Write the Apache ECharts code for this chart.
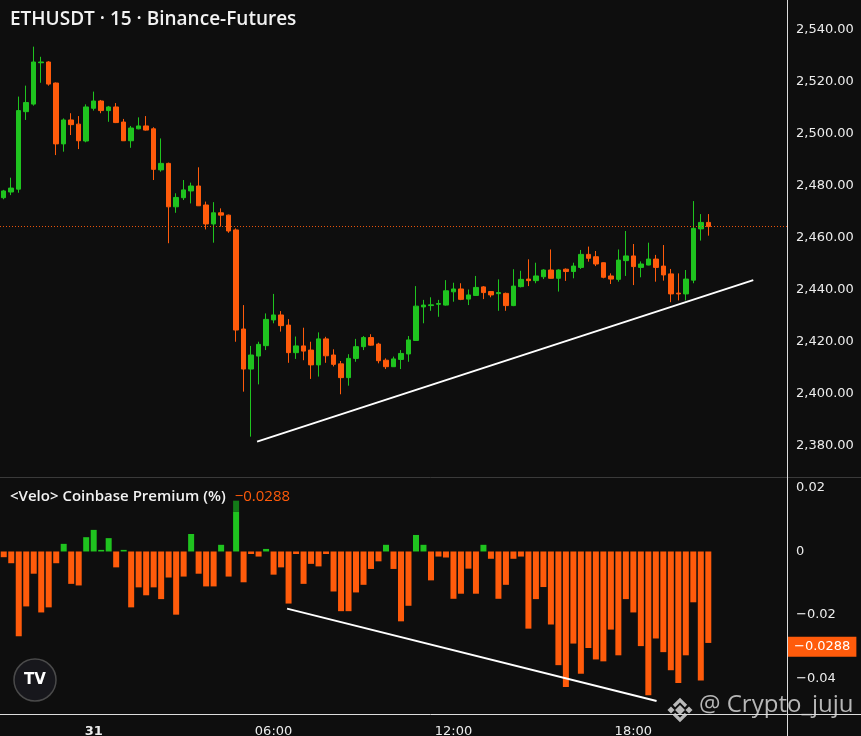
<!DOCTYPE html>
<html><head><meta charset="utf-8">
<script src="https://cdn.jsdelivr.net/npm/echarts@6/dist/echarts.min.js"></script>
<style>html,body{margin:0;padding:0;background:#0e0e0e;overflow:hidden}#c{width:861px;height:736px}</style>
</head><body><div id="c"></div>
<script>
// ---- data ----
const firstCandleMinutes = 21 * 60;   // first candle 21:00 on the 30th
const slotCount = 105;                // visible 15-minute slots
const dayLabel = '31';
const opens  = [2475.5,2477.7,2478.8,2508.6,2511.5,2527.4,2527.7,2519.6,2496.2,2505.4,2503.8,2497.3,2509.9,2512.7,2509.0,2510.4,2504.6,2497.4,2502.0,2503.1,2502.0,2486.2,2488.7,2472.0,2475.5,2478.1,2480.0,2472.7,2465.4,2469.7,2468.8,2463.1,2425.0,2409.6,2414.6,2418.6,2428.5,2430.4,2426.5,2415.9,2418.5,2416.9,2411.2,2421.2,2415.0,2411.6,2406.3,2413.7,2418.2,2421.7,2419.2,2413.0,2410.5,2413.3,2415.4,2420.6,2433.5,2434.0,2434.5,2434.2,2439.3,2440.4,2436.5,2437.9,2441.2,2439.4,2438.6,2438.7,2434.0,2441.3,2444.2,2443.6,2445.1,2447.7,2444.5,2448.0,2447.1,2448.7,2453.7,2452.8,2450.5,2445.4,2444.1,2451.3,2453.1,2448.7,2449.6,2451.9,2449.2,2446.2,2438.8,2438.5,2443.8,2463.5,2466.0];
const closes = [2478.1,2479.2,2509.0,2512.1,2527.7,2527.7,2519.2,2496.2,2505.4,2503.6,2497.4,2510.4,2512.7,2509.0,2510.4,2504.4,2497.4,2502.3,2503.1,2501.5,2486.4,2488.7,2472.0,2475.6,2478.5,2480.0,2472.4,2465.4,2469.7,2468.8,2462.7,2424.6,2409.6,2415.0,2419.1,2428.7,2430.4,2426.3,2415.9,2418.5,2416.5,2411.2,2421.2,2414.7,2411.4,2406.3,2413.7,2418.2,2421.7,2418.8,2412.8,2410.5,2413.5,2415.6,2420.8,2433.8,2434.2,2434.3,2434.8,2439.7,2440.4,2436.4,2438.1,2441.0,2439.0,2438.1,2439.0,2434.0,2441.5,2444.1,2443.6,2445.4,2447.7,2444.5,2447.7,2447.1,2449.2,2453.7,2452.2,2450.0,2444.9,2444.2,2451.5,2453.1,2449.0,2450.0,2451.9,2448.7,2445.8,2438.5,2438.5,2444.2,2463.7,2466.0,2464.4];
const lows   = [2474.9,2476.5,2477.4,2505.4,2510.9,2519.7,2518.6,2491.9,2493.2,2499.6,2494.2,2496.8,2509.0,2508.0,2504.7,2504.2,2497.3,2494.7,2501.8,2501.3,2482.3,2485.5,2458.0,2469.7,2474.6,2473.3,2472.3,2463.3,2458.2,2464.4,2462.0,2420.1,2400.9,2383.6,2403.7,2416.9,2427.2,2424.0,2412.0,2413.5,2413.0,2405.8,2406.7,2412.0,2410.6,2399.9,2403.2,2412.4,2416.9,2418.6,2411.8,2409.6,2410.4,2409.6,2412.4,2420.5,2427.2,2432.0,2429.7,2434.0,2435.5,2436.1,2434.2,2437.8,2436.5,2437.2,2432.0,2432.0,2433.8,2441.0,2441.5,2442.6,2444.2,2444.4,2439.4,2443.5,2444.5,2448.1,2450.9,2449.2,2444.5,2442.3,2443.2,2445.4,2441.9,2444.9,2449.5,2443.2,2443.6,2435.3,2436.0,2436.0,2442.6,2459.0,2460.9];
const highs  = [2478.5,2483.2,2514.4,2518.6,2533.6,2529.7,2528.0,2519.8,2506.0,2508.0,2506.9,2511.4,2516.3,2513.1,2510.8,2511.9,2505.8,2503.1,2506.4,2506.9,2502.6,2498.3,2489.0,2477.2,2482.3,2481.3,2487.2,2474.0,2473.8,2471.4,2469.0,2463.7,2434.2,2418.5,2420.1,2431.0,2438.5,2431.9,2428.8,2422.1,2425.5,2420.1,2423.7,2422.0,2417.2,2412.7,2415.3,2421.2,2422.3,2423.0,2419.7,2413.7,2414.4,2416.9,2422.3,2441.5,2436.2,2437.2,2436.2,2443.8,2442.8,2442.6,2440.2,2445.4,2441.5,2439.6,2444.1,2439.0,2448.0,2447.4,2451.8,2450.5,2448.0,2455.6,2448.0,2448.3,2450.5,2455.4,2456.7,2455.0,2450.6,2446.4,2455.6,2462.7,2457.7,2451.0,2458.2,2453.5,2457.3,2448.1,2446.4,2447.7,2474.2,2469.2,2469.2];
const premium = [-0.0018,-0.0037,-0.0267,-0.0173,-0.0070,-0.0192,-0.0176,-0.0037,0.0024,-0.0102,-0.0107,0.0045,0.0068,0.0005,0.0042,-0.0050,0.0005,-0.0176,-0.0113,-0.0138,-0.0113,-0.0150,-0.0082,-0.0199,-0.0079,0.0055,-0.0070,-0.0110,-0.0110,0.0021,-0.0079,0.0126,-0.0097,-0.0008,-0.0016,0.0008,-0.0073,-0.0050,-0.0164,-0.0008,-0.0102,-0.0039,-0.0047,-0.0008,-0.0126,-0.0188,-0.0188,-0.0129,-0.0105,-0.0055,-0.0031,0.0021,-0.0055,-0.0220,-0.0171,0.0052,0.0021,-0.0091,-0.0016,-0.0019,-0.0149,-0.0133,-0.0054,-0.0133,0.0021,-0.0023,-0.0149,-0.0105,-0.0023,-0.0016,-0.0243,-0.0150,-0.0112,-0.0230,-0.0358,-0.0427,-0.0290,-0.0385,-0.0304,-0.0340,-0.0346,-0.0246,-0.0327,-0.0150,-0.0192,-0.0298,-0.0453,-0.0274,-0.0317,-0.0374,-0.0414,-0.0327,-0.0160,-0.0406,-0.0288];
const premiumCapIndex = 31;     // bar with a darker top segment
const premiumCapValue = 0.0034;
const priceTicks = [2380,2400,2420,2440,2460,2480,2500,2520,2540];
const premiumTicks = [0.02,0,-0.02,-0.04];
const trendTop = [[33.8,2381.7],[100.0,2443.8]];
const trendBottom = [[37.8,-0.0180],[87.1,-0.0471]];

// ---- styles ----
const BG = '#0e0e0e', GREEN = '#1fc31f', ORANGE = '#ff5b0b', TEXT = '#ececec';
const AXFONT = 'DejaVu Sans';

const timeCats = [];
for (let i = 0; i < slotCount; i++) {
  const m = (firstCandleMinutes + 15 * i) % 1440;
  const hh = String(Math.floor(m / 60)).padStart(2, '0');
  const mm = String(m % 60).padStart(2, '0');
  timeCats.push(m === 0 ? dayLabel : hh + ':' + mm);
}
const candleData = opens.map((o, i) => [o, closes[i], lows[i], highs[i]]);
const capData = premium.map((v, i) => i === premiumCapIndex ? premiumCapValue : '-');
const fmtPrice = v => { const s = v.toFixed(2).split('.'); return s[0].replace(/\B(?=(\d{3})+(?!\d))/g, ',') + '.' + s[1]; };
const fmtPrem = (v, d) => v === 0 ? '0' : (v < 0 ? '\u2212' : '') + Math.abs(v).toFixed(d);
const lastPrem = premium[premium.length - 1];
const lastClose = closes[closes.length - 1];

const chart = echarts.init(document.getElementById('c'), null, {renderer: 'canvas'});
chart.setOption({
  animation: false,
  backgroundColor: BG,
  grid: [
    {left: 0, top: 0, width: 787, height: 477, outerBoundsMode: 'none', containLabel: false},
    {left: 0, top: 478, width: 787, height: 236, outerBoundsMode: 'none', containLabel: false}
  ],
  xAxis: [
    {type: 'category', gridIndex: 0, data: timeCats, boundaryGap: true,
     axisLine: {show: false}, axisTick: {show: false}, axisLabel: {show: false}, splitLine: {show: false}},
    {type: 'category', gridIndex: 1, data: timeCats, boundaryGap: true,
     axisLine: {show: false}, axisTick: {show: false}, splitLine: {show: false},
     axisLabel: {interval: (i) => i % 24 === 12, color: TEXT, fontSize: 13, fontFamily: AXFONT, margin: 11,
       formatter: v => v === dayLabel ? '{b|' + v + '}' : v, rich: {b: {fontWeight: 'bold', fontSize: 13, fontFamily: AXFONT, color: TEXT}}}},
    {type: 'value', gridIndex: 0, min: -0.5, max: slotCount - 0.5, show: false},
    {type: 'value', gridIndex: 1, min: -0.5, max: slotCount - 0.5, show: false}
  ],
  yAxis: [
    {type: 'value', gridIndex: 0, position: 'right', min: 2368.08, max: 2551.54,
     axisLine: {show: false}, axisTick: {show: false}, splitLine: {show: false},
     axisLabel: {customValues: priceTicks, formatter: fmtPrice, color: TEXT, fontSize: 13, fontFamily: AXFONT, margin: 9}},
    {type: 'value', gridIndex: 1, position: 'right', min: -0.05118, max: 0.02314,
     axisLine: {show: false}, axisTick: {show: false}, splitLine: {show: false},
     axisLabel: {customValues: premiumTicks, formatter: v => fmtPrem(v, 2), color: TEXT, fontSize: 13, fontFamily: AXFONT, margin: 9}}
  ],
  series: [
    {type: 'candlestick', xAxisIndex: 0, yAxisIndex: 0, data: candleData, barWidth: 5,
     itemStyle: {color: GREEN, color0: ORANGE, borderColor: GREEN, borderColor0: ORANGE, borderWidth: 1},
     markLine: {silent: true, symbol: 'none', label: {show: false},
       lineStyle: {color: ORANGE, type: [1, 2], width: 1, opacity: 0.9}, data: [{yAxis: lastClose}]}},
    {type: 'line', xAxisIndex: 2, yAxisIndex: 0, data: trendTop, symbol: 'none', silent: true,
     lineStyle: {color: '#ffffff', width: 2}},
    {type: 'bar', xAxisIndex: 1, yAxisIndex: 1, stack: 'p', data: premium, barWidth: 6,
     itemStyle: {color: p => p.value >= 0 ? GREEN : ORANGE}},
    {type: 'bar', xAxisIndex: 1, yAxisIndex: 1, stack: 'p', data: capData, barWidth: 6,
     itemStyle: {color: '#137a18'}},
    {type: 'line', xAxisIndex: 3, yAxisIndex: 1, data: trendBottom, symbol: 'none', silent: true,
     lineStyle: {color: '#ffffff', width: 2},
     markLine: {silent: true, symbol: 'none', lineStyle: {color: 'rgba(0,0,0,0)', width: 0},
       label: {show: true, position: 'end', distance: 1, formatter: () => fmtPrem(lastPrem, 4),
         backgroundColor: ORANGE, color: '#ffffff', fontSize: 13, fontFamily: AXFONT, padding: [4, 6, 3, 6]},
       data: [{yAxis: lastPrem}]}}
  ],
  graphic: [
    {type: 'line', shape: {x1: 0, y1: 477.5, x2: 861, y2: 477.5}, style: {stroke: '#3a3a3a', lineWidth: 1}, silent: true},
    {type: 'line', shape: {x1: 0, y1: 714.5, x2: 861, y2: 714.5}, style: {stroke: '#dcdcdc', lineWidth: 1}, silent: true},
    {type: 'line', shape: {x1: 787.5, y1: 0, x2: 787.5, y2: 736}, style: {stroke: '#dcdcdc', lineWidth: 1}, silent: true},
    {type: 'text', left: 10, top: 10, style: {text: 'ETHUSDT \u00b7 15 \u00b7 Binance-Futures', fill: '#f2f2f2',
      font: '600 19px "Open Sans"'}},
    {type: 'text', left: 10, top: 489, style: {text: '{a|<Velo> Coinbase Premium (%)}{b|' + fmtPrem(lastPrem, 4) + '}',
      rich: {a: {fill: '#f2f2f2', font: '600 15px "Open Sans"'}, b: {fill: ORANGE, font: '500 15px "Open Sans"', padding: [0, 0, 0, 9]}}}},
    {type: 'circle', shape: {cx: 35, cy: 680, r: 21}, style: {fill: '#17171c', stroke: '#4a4a4a', lineWidth: 1.5}, silent: true},
    {type: 'text', x: 35, y: 680, style: {text: 'TV', fill: '#ffffff', font: 'bold 15px "DejaVu Sans"', align: 'center', verticalAlign: 'middle'}},
    {type: 'group', x: 680, y: 710, silent: true, children: [
      {type: 'rect', shape: {x: -3.5, y: -3.5, width: 7, height: 7}, rotation: Math.PI / 4, style: {fill: 'rgba(215,215,215,0.85)'}},
      {type: 'rect', x: -9, shape: {x: -2.5, y: -2.5, width: 5, height: 5}, rotation: Math.PI / 4, style: {fill: 'rgba(215,215,215,0.85)'}},
      {type: 'rect', x: 9, shape: {x: -2.5, y: -2.5, width: 5, height: 5}, rotation: Math.PI / 4, style: {fill: 'rgba(215,215,215,0.85)'}},
      {type: 'polyline', shape: {points: [[-6, -4], [0, -10], [6, -4]]}, style: {stroke: 'rgba(215,215,215,0.85)', lineWidth: 3.2, fill: null}},
      {type: 'polyline', shape: {points: [[-6, 4], [0, 10], [6, 4]]}, style: {stroke: 'rgba(215,215,215,0.85)', lineWidth: 3.2, fill: null}}
    ]},
    {type: 'text', left: 699, top: 693, style: {text: '@ Crypto_juju', fill: 'rgba(220,220,220,0.82)', font: '24px "Open Sans"'}}
  ]
});
</script>
</body></html>
